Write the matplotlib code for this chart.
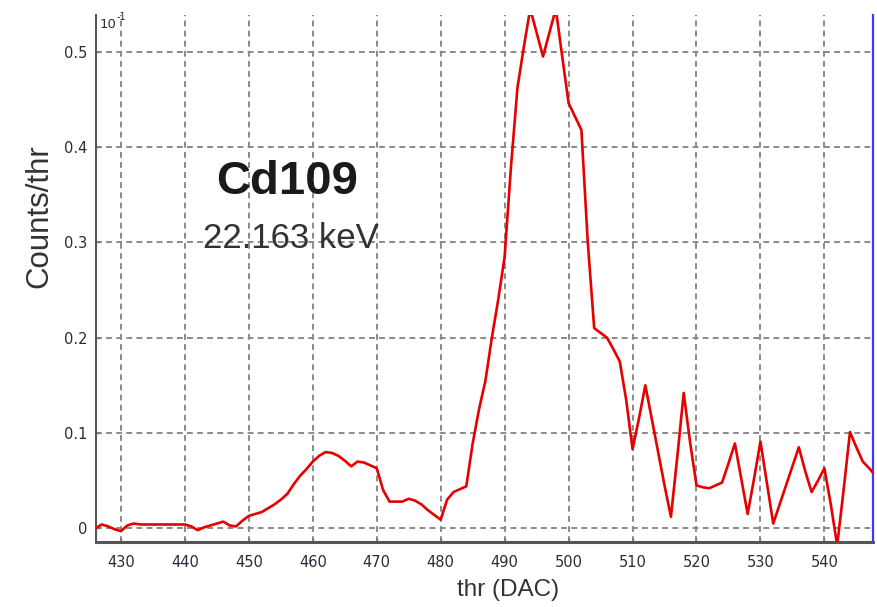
import matplotlib
matplotlib.use("Agg")
import matplotlib.pyplot as plt

# ---- data (values shown in units of 10^-1 Counts/thr) ----
thr = list(range(426, 549))
counts = [
    0.000, 0.004, 0.002, -0.001, -0.003, 0.003, 0.005, 0.004, 0.004, 0.004,   # 426-435
    0.004, 0.004, 0.004, 0.004, 0.004, 0.002, -0.002, 0.001, 0.003, 0.005,    # 436-445
    0.007, 0.003, 0.002, 0.008, 0.013, 0.015, 0.017, 0.021, 0.025, 0.030,     # 446-455
    0.036, 0.046, 0.055, 0.062, 0.070, 0.076, 0.080, 0.079, 0.076, 0.071,     # 456-465
    0.065, 0.070, 0.069, 0.066, 0.063, 0.040, 0.028, 0.028, 0.028, 0.031,     # 466-475
    0.029, 0.025, 0.019, 0.014, 0.009, 0.030, 0.038, 0.041, 0.044, 0.089,     # 476-485
    0.125, 0.155, 0.200, 0.240, 0.285, 0.380, 0.462, 0.505, 0.545, 0.520,     # 486-495
    0.495, 0.520, 0.545, 0.495, 0.446, 0.432, 0.418, 0.300, 0.210, 0.205,     # 496-505
    0.200, 0.188, 0.175, 0.135, 0.083, 0.115, 0.150, 0.115, 0.080, 0.045,     # 506-515
    0.012, 0.075, 0.142, 0.090, 0.045, 0.043, 0.042, 0.045, 0.048, 0.068,     # 516-525
    0.089, 0.052, 0.015, 0.052, 0.091, 0.048, 0.005, 0.025, 0.045, 0.065,     # 526-535
    0.085, 0.060, 0.038, 0.050, 0.063, 0.025, -0.018, 0.040, 0.101, 0.085,    # 536-545
    0.070, 0.063, 0.055,                                                      # 546-548
]
xticks = [430, 440, 450, 460, 470, 480, 490, 500, 510, 520, 530, 540]
yticks = [0.0, 0.1, 0.2, 0.3, 0.4, 0.5]
ytick_labels = ["0", "0.1", "0.2", "0.3", "0.4", "0.5"]

W, H = 877, 607
fig = plt.figure(figsize=(W / 100, H / 100), dpi=100)
fig.patch.set_facecolor("white")
ax = fig.add_axes([96 / W, 1 - 542.3 / H, 777 / W, 527.3 / H])

ax.plot(thr, counts, color="#e80000", lw=1.9, zorder=3, clip_on=True)

ax.set_xlim(426.1, 547.6)
ax.set_ylim(-0.0147, 0.5385)
ax.set_xticks(xticks)
ax.set_yticks(yticks)
ax.set_yticklabels(ytick_labels)

ax.grid(True, color="#8a8a8a", lw=1.4, linestyle=(0, (3, 2.2)), zorder=1)

for lab in ax.get_xticklabels() + ax.get_yticklabels():
    lab.set_family("DejaVu Sans")
    lab.set_fontsize(10.5)
    lab.set_color("#2b2b3a")
ax.tick_params(axis="both", direction="in", length=3, width=1, color="#777777")
ax.tick_params(axis="x", pad=9)
ax.tick_params(axis="y", pad=6)

ax.spines["top"].set_visible(False)
ax.spines["left"].set_color("#555555")
ax.spines["left"].set_linewidth(1.5)
ax.spines["bottom"].set_color("#555555")
ax.spines["bottom"].set_linewidth(2.2)
ax.spines["right"].set_color("#3a3aff")
ax.spines["right"].set_linewidth(1.6)

ax.set_xlabel("thr (DAC)", family="Liberation Sans", fontsize=17.5, color="#333333")
ax.xaxis.set_label_coords((508 - 96) / 777, (542.3 - 590) / 527.3)
ax.xaxis.label.set_va("center")
ax.set_ylabel("Counts/thr", family="Liberation Sans", fontsize=22.5, color="#333333")
ax.yaxis.set_label_coords((39 - 96) / 777, (542.3 - 216) / 527.3)
ax.yaxis.label.set_va("center")

ax.text((286.7 - 96) / 777, (542.3 - 181.7) / 527.3, "Cd109", transform=ax.transAxes,
        family="Liberation Sans", fontweight="bold", fontsize=34, color="#1a1a1a",
        ha="center", va="center", zorder=4)
ax.text((290.5 - 96) / 777, (542.3 - 239) / 527.3, "22.163 keV", transform=ax.transAxes,
        family="Liberation Sans", fontsize=25, color="#333333",
        ha="center", va="center", zorder=4)

# exponent marker "10^-1" at the top-left of the plot
fig.text(100 / W, 1 - 28 / H, "10", family="DejaVu Sans", fontsize=9.5,
         color="#2b2b3a", ha="left", va="baseline")
fig.text(117 / W, 1 - 20 / H, "-1", family="DejaVu Sans", fontsize=7,
         color="#2b2b3a", ha="left", va="baseline")

fig.savefig("out.png", dpi=100, facecolor="white")
